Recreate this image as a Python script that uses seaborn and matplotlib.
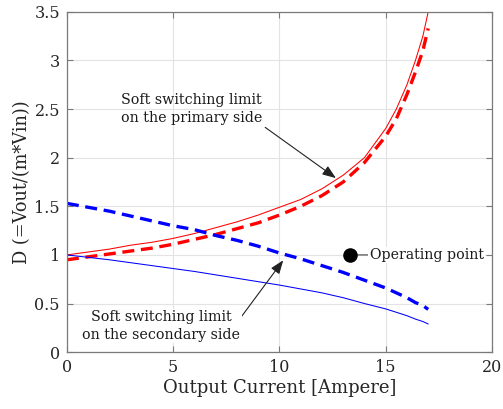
import numpy as np
import pandas as pd
import matplotlib
matplotlib.use("Agg")
import matplotlib.pyplot as plt
import seaborn as sns

# Output current samples (A)
current = [0, 1, 2, 3, 4, 5, 6, 7, 8, 9, 10, 11, 12, 13, 14, 15, 15.5, 16, 16.4, 16.75, 17]

# Primary-side soft switching limit: model (solid) and approximation (dashed)
primary_solid = [1.00, 1.03, 1.06, 1.10, 1.13, 1.17, 1.22, 1.28, 1.34, 1.41, 1.49, 1.57,
                 1.68, 1.82, 2.00, 2.30, 2.50, 2.75, 3.00, 3.25, 3.50]
primary_dashed = [0.95, 0.98, 1.01, 1.04, 1.07, 1.11, 1.16, 1.21, 1.27, 1.33, 1.41, 1.50,
                  1.61, 1.75, 1.95, 2.22, 2.40, 2.65, 2.88, 3.10, 3.33]

# Secondary-side soft switching limit
secondary_solid = [1.00, 0.975, 0.95, 0.92, 0.89, 0.86, 0.83, 0.795, 0.76, 0.725, 0.69, 0.65,
                   0.61, 0.56, 0.50, 0.445, 0.41, 0.375, 0.34, 0.315, 0.29]
secondary_dashed = [1.53, 1.49, 1.45, 1.40, 1.35, 1.30, 1.26, 1.20, 1.15, 1.09, 1.02, 0.96,
                    0.89, 0.82, 0.74, 0.66, 0.61, 0.56, 0.51, 0.48, 0.44]

# Operating point
op_current = [13.33]
op_duty = [1.0]

x_ticks = [0, 5, 10, 15, 20]
y_ticks = [0, 0.5, 1, 1.5, 2, 2.5, 3, 3.5]

sns.set_theme(style="whitegrid")
plt.rcParams["font.family"] = ["DejaVu Serif"]

df = pd.DataFrame({
    "current": current,
    "primary_solid": primary_solid,
    "primary_dashed": primary_dashed,
    "secondary_solid": secondary_solid,
    "secondary_dashed": secondary_dashed,
})

fig = plt.figure(figsize=(5.03, 4.09), dpi=100)
ax = fig.add_axes([0.133, 0.139, 0.845, 0.832])

sns.lineplot(data=df, x="current", y="primary_solid", ax=ax, color="#ff0000", lw=0.75)
sns.lineplot(data=df, x="current", y="primary_dashed", ax=ax, color="#ff0000", lw=2.4,
             dashes=False, linestyle=(0, (3.6, 2.0)))
sns.lineplot(data=df, x="current", y="secondary_solid", ax=ax, color="#0000ff", lw=0.75)
sns.lineplot(data=df, x="current", y="secondary_dashed", ax=ax, color="#0000ff", lw=2.4,
             dashes=False, linestyle=(0, (3.6, 2.0)))

sns.scatterplot(x=op_current, y=op_duty, ax=ax, color="black", s=110, zorder=5,
                edgecolor="black", linewidth=0)

ax.set_xlim(0, 20)
ax.set_ylim(0, 3.5)
ax.set_xticks(x_ticks)
ax.set_yticks(y_ticks)
ax.set_xticklabels([f"{v:g}" for v in x_ticks])
ax.set_yticklabels([f"{v:g}" for v in y_ticks])

ax.set_xlabel("Output Current [Ampere]", fontsize=13, color="#262626", labelpad=2)
ax.set_ylabel("D (=Vout/(m*Vin))", fontsize=12.8, color="#262626", labelpad=2)

ax.set_facecolor("white")
ax.grid(True, color="#e3e3e3", lw=0.8)
for side in ["left", "bottom", "top", "right"]:
    ax.spines[side].set_visible(True)
    ax.spines[side].set_color("#7a7a7a")
    ax.spines[side].set_linewidth(0.9)
ax.tick_params(axis="both", which="both", direction="in", length=4, width=0.8,
               colors="#7a7a7a", labelcolor="#262626", labelsize=11.5,
               top=True, right=True, bottom=True, left=True, pad=5)

# Annotations
ax.annotate("Soft switching limit\non the primary side", xy=(12.66, 1.79), xytext=(5.85, 2.5),
            ha="center", va="center", fontsize=10.3, color="#1a1a1a", linespacing=1.35,
            arrowprops=dict(arrowstyle="-|>,head_length=0.8,head_width=0.3", color="#222222",
                            lw=0.8, shrinkA=0, shrinkB=0,
                            relpos=(1.0, 0.0)))
ax.annotate("Soft switching limit\non the secondary side", xy=(10.18, 0.945), xytext=(4.45, 0.27),
            ha="center", va="center", fontsize=10.3, color="#1a1a1a", linespacing=1.35,
            bbox=dict(boxstyle="square,pad=0.1", fc="white", ec="none"),
            arrowprops=dict(arrowstyle="-|>,head_length=0.8,head_width=0.3", color="#222222",
                            lw=0.8, shrinkA=0, shrinkB=0,
                            relpos=(1.0, 0.75)))
ax.annotate("Operating point", xy=(op_current[0], op_duty[0]), xytext=(14.25, 1.0),
            ha="left", va="center", fontsize=10.2, color="#1a1a1a",
            bbox=dict(boxstyle="square,pad=0.1", fc="white", ec="none"),
            arrowprops=dict(arrowstyle="-", color="#444444", lw=0.8, shrinkA=0, shrinkB=5))

fig.savefig("out.png", dpi=100, facecolor="white")
